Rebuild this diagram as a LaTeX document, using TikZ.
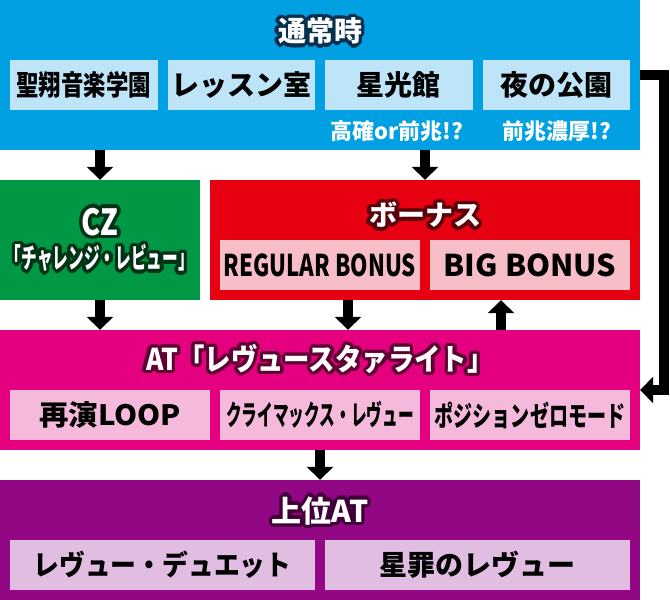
\documentclass[tikz,border=0pt]{standalone}
\usepackage{fontspec}
\setmainfont{Noto Sans CJK JP}[BoldFont={Noto Sans CJK JP Black}]
\usepackage{graphicx}
\usetikzlibrary{arrows.meta}

\definecolor{normalbg}{RGB}{0,160,227}
\definecolor{normallt}{RGB}{190,228,248}
\definecolor{normaldark}{RGB}{8,48,78}
\definecolor{czbg}{RGB}{0,152,68}
\definecolor{czdark}{RGB}{0,50,22}
\definecolor{bonusbg}{RGB}{230,0,18}
\definecolor{bonuslt}{RGB}{248,190,200}
\definecolor{bonusdark}{RGB}{90,0,10}
\definecolor{atbg}{RGB}{228,0,127}
\definecolor{atlt}{RGB}{245,185,220}
\definecolor{atdark}{RGB}{95,0,50}
\definecolor{topbg}{RGB}{146,7,131}
\definecolor{toplt}{RGB}{225,190,225}
\definecolor{topdark}{RGB}{64,0,55}

\newcommand{\condense}[2]{\scalebox{#1}[1]{#2}}
\newcommand{\titlenode}[5][]{%
	\foreach \ang in {0,20,...,340}{
		\node[heading, #1, text=#4] at ([shift={(\ang:3.5pt)}]#3) {#5};
		\node[heading, #1, text=#4] at ([shift={(\ang:2pt)}]#3) {#5};}
	\node[heading, #1] (#2) at (#3) {#5};}

\begin{document}
\begin{tikzpicture}[x=1pt, y=-1pt,
		panel/.style={inner sep=0pt, minimum height=120pt},
		item/.style={inner sep=0pt, minimum height=50pt, font=\fontsize{28}{28}\selectfont\bfseries},
		heading/.style={inner sep=0pt, text=white, font=\fontsize{28}{28}\selectfont\bfseries},
		note/.style={inner sep=0pt, text=white, font=\fontsize{22}{22}\selectfont\bfseries},
		arr/.style={line width=10pt, -{Triangle[width=26pt, length=13pt]}}]
			\useasboundingbox (0,0) rectangle (670,600);
			\node[panel, fill=normalbg, minimum width=640pt, minimum height=150pt] (normal) at (320,75) {};
			\titlenode{normaltitle}{320,31}{normaldark}{通常時}
			\node[item, fill=normallt, minimum width=147.5pt] (academy) at (83.75,85) {\condense{0.8}{聖翔音楽学園}};
			\node[item, fill=normallt, minimum width=147.5pt] (lesson) at (241.25,85) {レッスン室};
			\node[item, fill=normallt, minimum width=147.5pt] (starhall) at (398.75,85) {星光館};
			\node[item, fill=normallt, minimum width=147.5pt] (park) at (556.25,85) {夜の公園};
			\node[note] (starnote) at (397,131) {高確or前兆!?};
			\node[note] (parknote) at (557,131) {前兆濃厚!?};

			\node[panel, fill=czbg, minimum width=200pt] (cz) at (100,240) {};
			\titlenode[font=\fontsize{36}{36}\selectfont\bfseries]{cztitle}{100,222}{czdark}{\condense{0.8}{CZ}}
			\titlenode{czname}{100,258}{czdark}{\condense{0.56}{「チャレンジ・レビュー」}}

			\node[panel, fill=bonusbg, minimum width=430pt] (bonus) at (425,240) {};
			\titlenode{bonustitle}{425,215}{bonusdark}{ボーナス}
			\node[item, fill=bonuslt, minimum width=200pt, font=\fontsize{30}{30}\selectfont\bfseries] (regular) at (320,265) {\condense{0.74}{REGULAR BONUS}};
			\node[item, fill=bonuslt, minimum width=200pt, font=\fontsize{30}{30}\selectfont\bfseries] (big) at (530,265) {\condense{1.02}{BIG BONUS}};

			\node[panel, fill=atbg, minimum width=640pt] (at) at (320,390) {};
			\titlenode[font=\fontsize{30}{30}\selectfont\bfseries]{attitle}{320,359}{atdark}{\condense{0.88}{AT「レヴュースタァライト」}}
			\node[item, fill=atlt, minimum width=200pt] (loop) at (110,415) {\condense{1.05}{再演LOOP}};
			\node[item, fill=atlt, minimum width=200pt] (climax) at (320,415) {\condense{0.56}{クライマックス・レヴュー}};
			\node[item, fill=atlt, minimum width=200pt] (position) at (530,415) {\condense{0.68}{ポジションゼロモード}};

			\node[panel, fill=topbg, minimum width=640pt] (top) at (320,540) {};
			\titlenode[font=\fontsize{30}{30}\selectfont\bfseries]{toptitle}{320,511}{topdark}{上位AT}
			\node[item, fill=toplt, minimum width=305pt] (duet) at (162.5,565) {\condense{0.92}{レヴュー・デュエット}};
			\node[item, fill=toplt, minimum width=305pt] (sin) at (477.5,565) {星罪のレヴュー};

			\draw[arr] (normal.south -| cz) -- (cz.north);
			\draw[arr] (normal.south -| bonus) -- (bonus.north);
			\draw[arr] (normal.east) -- ++(24,0) |- (at.east);
			\draw[arr] (cz.south) -- (cz.south |- at.north);
			\draw[arr] ([xshift=-77pt]bonus.south) -- ([xshift=-77pt]bonus.south |- at.north);
			\draw[arr] ([xshift=76pt]bonus.south |- at.north) -- ([xshift=76pt]bonus.south);
			\draw[arr] (at.south) -- (top.north);
		\end{tikzpicture}
\end{document}
